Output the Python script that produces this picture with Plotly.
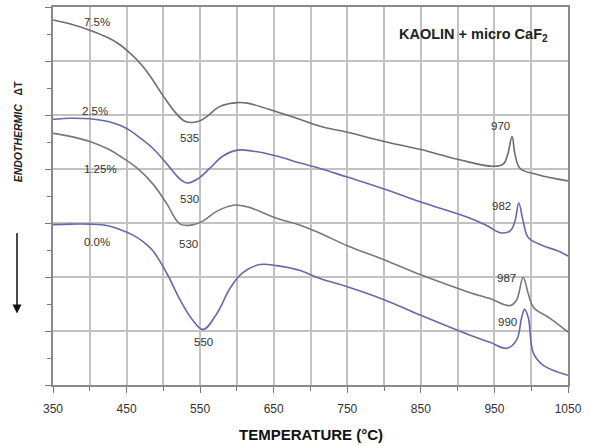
import plotly.graph_objects as go

# ---- data (temperature °C, relative ΔT) ----
t_75 = [350, 375, 400, 425, 440, 452, 465, 475, 487, 500, 518, 530, 547, 559, 577, 601, 614, 654, 681, 713, 750, 800, 850, 900, 948, 962, 968, 974, 978, 985, 1008, 1050]
y_75 = [6.76, 6.68, 6.57, 6.43, 6.31, 6.18, 6.01, 5.85, 5.62, 5.35, 5.02, 4.88, 4.88, 4.97, 5.16, 5.23, 5.22, 5.06, 4.94, 4.79, 4.68, 4.51, 4.36, 4.18, 4.05, 4.09, 4.27, 4.60, 4.27, 4.01, 3.90, 3.78]

t_25 = [350, 375, 400, 425, 441, 455, 468, 486, 505, 523, 532, 546, 563, 581, 601, 622, 654, 686, 713, 750, 800, 850, 917, 940, 958, 971, 978, 983, 989, 996, 1016, 1035, 1050]
y_25 = [4.92, 4.94, 4.93, 4.88, 4.81, 4.71, 4.58, 4.38, 4.09, 3.81, 3.74, 3.81, 4.01, 4.24, 4.35, 4.33, 4.24, 4.11, 4.01, 3.85, 3.63, 3.39, 3.09, 2.95, 2.82, 2.85, 3.04, 3.37, 3.04, 2.73, 2.58, 2.49, 2.39]

t_125 = [350, 375, 400, 425, 441, 464, 486, 505, 523, 541, 554, 573, 595, 614, 654, 686, 713, 750, 800, 850, 917, 944, 971, 980, 989, 996, 1003, 1026, 1050]
y_125 = [4.66, 4.60, 4.51, 4.37, 4.24, 4.02, 3.72, 3.35, 2.98, 2.97, 3.04, 3.22, 3.33, 3.30, 3.09, 2.96, 2.81, 2.58, 2.32, 2.04, 1.71, 1.60, 1.47, 1.57, 1.99, 1.69, 1.44, 1.23, 0.98]

t_00 = [350, 375, 400, 425, 441, 458, 472, 486, 505, 523, 540, 554, 573, 591, 608, 631, 654, 686, 713, 750, 800, 850, 917, 944, 967, 980, 987, 991, 996, 1003, 1016, 1050]
y_00 = [2.97, 2.98, 2.98, 2.95, 2.88, 2.78, 2.66, 2.48, 2.06, 1.57, 1.20, 1.03, 1.33, 1.80, 2.08, 2.23, 2.21, 2.12, 1.97, 1.82, 1.58, 1.29, 0.92, 0.79, 0.68, 0.83, 1.25, 1.40, 1.25, 0.59, 0.37, 0.18]

series_names = ["7.5%", "2.5%", "1.25%", "0.0%"]
series_t = [t_75, t_25, t_125, t_00]
series_y = [y_75, y_25, y_125, y_00]
series_colors = ["#6e6e6e", "#6868aa", "#787878", "#6868aa"]

# curve labels: (text, T, y)
label_text = ["7.5%", "2.5%", "1.25%", "0.0%", "535", "530", "530", "550", "970", "982", "987", "990"]
label_t = [410, 407, 414, 410, 536, 536, 534, 554, 958, 960, 967, 968]
label_y = [6.72, 5.08, 4.00, 2.65, 4.57, 3.44, 2.62, 0.79, 4.79, 3.31, 1.99, 1.16]

x_ticks = [350, 450, 550, 650, 750, 850, 950, 1050]

fig = go.Figure()
for name, tt, yy, col in zip(series_names, series_t, series_y, series_colors):
    fig.add_trace(go.Scatter(x=tt, y=yy, mode="lines", name=name,
                             line=dict(color=col, width=1.6, shape="spline", smoothing=1.1),
                             showlegend=False, hoverinfo="skip"))

for txt, tx, ty in zip(label_text, label_t, label_y):
    fig.add_annotation(x=tx, y=ty, text=txt, showarrow=False, xref="x", yref="y",
                       xanchor="center", yanchor="middle",
                       font=dict(family="Liberation Sans, Arial", size=11.5, color="#333333"))

fig.add_annotation(x=0.816, y=0.926, xref="paper", yref="paper", showarrow=False,
                   xanchor="center", yanchor="middle",
                   text="<b>KAOLIN + micro CaF<sub>2</sub></b>",
                   font=dict(family="Liberation Sans, Arial", size=14.5, color="#222222"))

fig.add_annotation(x=0.5, y=-0.132, xref="paper", yref="paper", showarrow=False,
                   xanchor="center", yanchor="middle",
                   text="<b>TEMPERATURE (°C)</b>",
                   font=dict(family="Liberation Sans, Arial", size=15, color="#111111"))

fig.add_annotation(x=-0.068, y=0.671, xref="paper", yref="paper", showarrow=False,
                   xanchor="center", yanchor="middle", textangle=-90,
                   text="<b><i>ENDOTHERMIC</i></b>   <b>ΔT</b>",
                   font=dict(family="Liberation Sans, Arial", size=10.5, color="#222222"))

fig.add_annotation(x=-0.0699, y=0.189, xref="paper", yref="paper", showarrow=True,
                   ax=0, ay=-82, text="", arrowhead=2, arrowsize=1.2, arrowwidth=1.5,
                   arrowcolor="#111111")

fig.update_xaxes(range=[350, 1050], tickmode="array", tickvals=x_ticks,
                 ticktext=[str(v) for v in x_ticks],
                 showgrid=True, gridcolor="#c2c2c2", gridwidth=1.5,
                 ticks="outside", ticklen=6, tickcolor="#777777", tickwidth=1,
                 ticklabelstandoff=6,
                 minor=dict(tickmode="linear", tick0=400, dtick=100, showgrid=True,
                            gridcolor="#c2c2c2", gridwidth=1.5, ticks="outside", ticklen=4,
                            tickcolor="#777777"),
                 showline=True, linecolor="#8a8a8a", linewidth=2, mirror=True,
                 tickfont=dict(family="Liberation Sans, Arial", size=12, color="#333333"),
                 zeroline=False)
fig.update_yaxes(range=[0, 7], tickmode="linear", tick0=0, dtick=1,
                 showticklabels=False, showgrid=True, gridcolor="#c2c2c2", gridwidth=1.5,
                 ticks="outside", ticklen=6, tickcolor="#777777",
                 minor=dict(tickmode="linear", tick0=0.5, dtick=1, showgrid=False,
                            ticks="outside", ticklen=4, tickcolor="#777777"),
                 showline=True, linecolor="#8a8a8a", linewidth=2, mirror=True,
                 zeroline=False)

fig.update_layout(width=591, height=446, margin=dict(l=53, r=23, t=5, b=61),
                  plot_bgcolor="white", paper_bgcolor="white", showlegend=False)

fig.write_html("out.html")
